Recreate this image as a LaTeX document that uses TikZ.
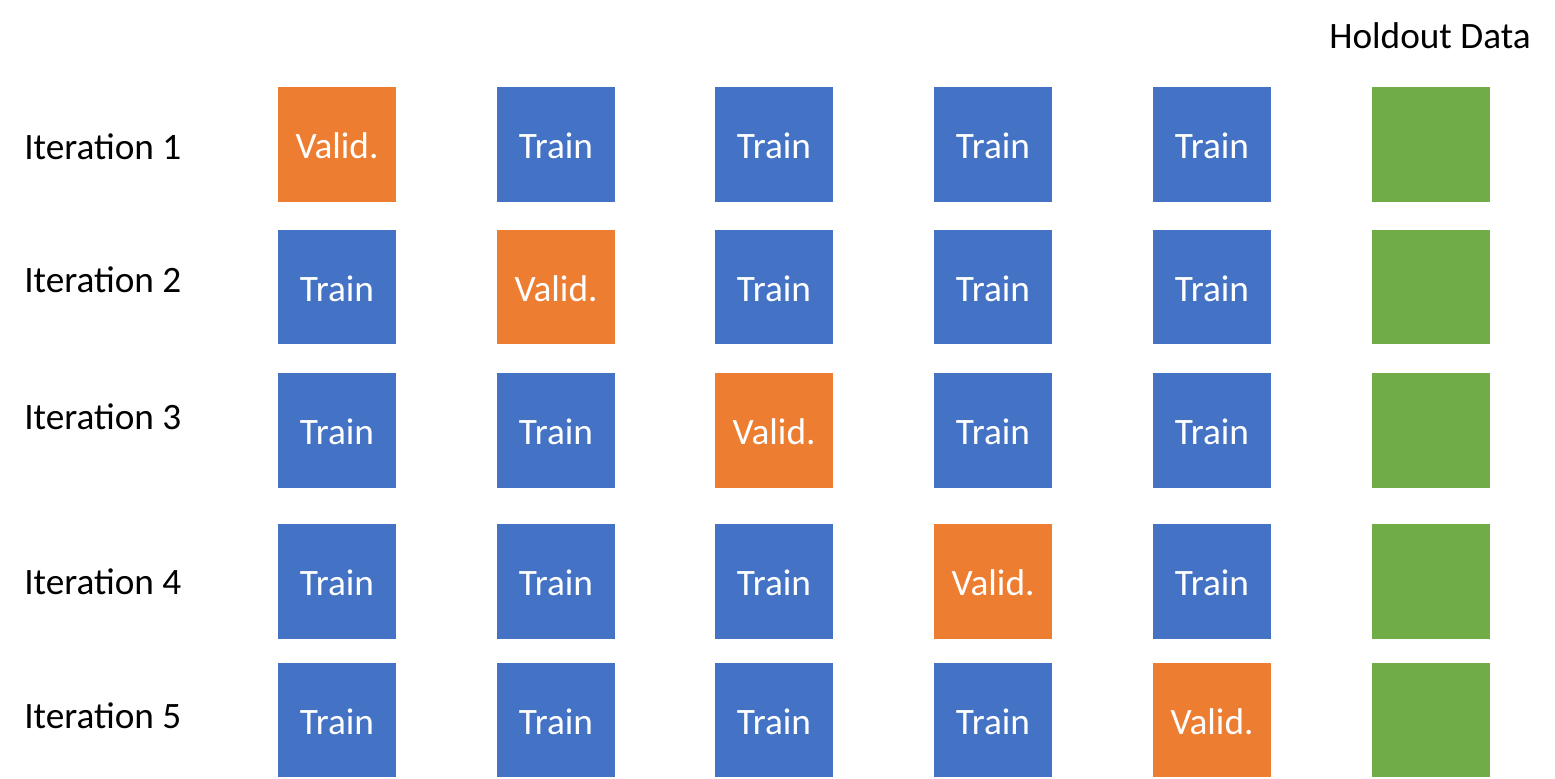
\documentclass[tikz,border=0pt]{standalone}
\usepackage{fontspec}
\setmainfont{Carlito}
\definecolor{trainblue}{HTML}{4472C4}
\definecolor{validorange}{HTML}{ED7D31}
\definecolor{holdgreen}{HTML}{70AD47}
\tikzset{
	fold/.style={minimum width=2.95cm, minimum height=2.85cm,
		inner sep=0pt, text height=0.714cm, text depth=0pt,
		text=white, font=\fontsize{26.5}{30}\selectfont},
	train/.style={fold, fill=trainblue},
	valid/.style={fold, fill=validorange},
	hold/.style={fold, fill=holdgreen},
	iterlabel/.style={anchor=base west, inner sep=0pt,
		font=\fontsize{26.5}{30}\selectfont}
}
\begin{document}
\begin{tikzpicture}
	[x=0.025cm, y=-0.025cm]
	\useasboundingbox (0,0) rectangle (1555,778);
	% header
	\node[iterlabel] (holdout) at (1329,48) {Holdout Data};
	% iteration 1
	\node[iterlabel] (it1) at (24,159) {Iteration 1};
	\node[valid] (b11) at (337,144.5) {Valid.};
	\node[train] (b12) at (556,144.5) {Train};
	\node[train] (b13) at (774,144.5) {Train};
	\node[train] (b14) at (993,144.5) {Train};
	\node[train] (b15) at (1212,144.5) {Train};
	\node[hold] (b16) at (1431,144.5) {};
	% iteration 2
	\node[iterlabel] (it2) at (24,292) {Iteration 2};
	\node[train] (b21) at (337,287) {Train};
	\node[valid] (b22) at (556,287) {Valid.};
	\node[train] (b23) at (774,287) {Train};
	\node[train] (b24) at (993,287) {Train};
	\node[train] (b25) at (1212,287) {Train};
	\node[hold] (b26) at (1431,287) {};
	% iteration 3
	\node[iterlabel] (it3) at (24,429) {Iteration 3};
	\node[train] (b31) at (337,430.5) {Train};
	\node[train] (b32) at (556,430.5) {Train};
	\node[valid] (b33) at (774,430.5) {Valid.};
	\node[train] (b34) at (993,430.5) {Train};
	\node[train] (b35) at (1212,430.5) {Train};
	\node[hold] (b36) at (1431,430.5) {};
	% iteration 4
	\node[iterlabel] (it4) at (24,594) {Iteration 4};
	\node[train] (b41) at (337,581.5) {Train};
	\node[train] (b42) at (556,581.5) {Train};
	\node[train] (b43) at (774,581.5) {Train};
	\node[valid] (b44) at (993,581.5) {Valid.};
	\node[train] (b45) at (1212,581.5) {Train};
	\node[hold] (b46) at (1431,581.5) {};
	% iteration 5
	\node[iterlabel] (it5) at (24,728) {Iteration 5};
	\node[train] (b51) at (337,720) {Train};
	\node[train] (b52) at (556,720) {Train};
	\node[train] (b53) at (774,720) {Train};
	\node[train] (b54) at (993,720) {Train};
	\node[valid] (b55) at (1212,720) {Valid.};
	\node[hold] (b56) at (1431,720) {};
\end{tikzpicture}
\end{document}
